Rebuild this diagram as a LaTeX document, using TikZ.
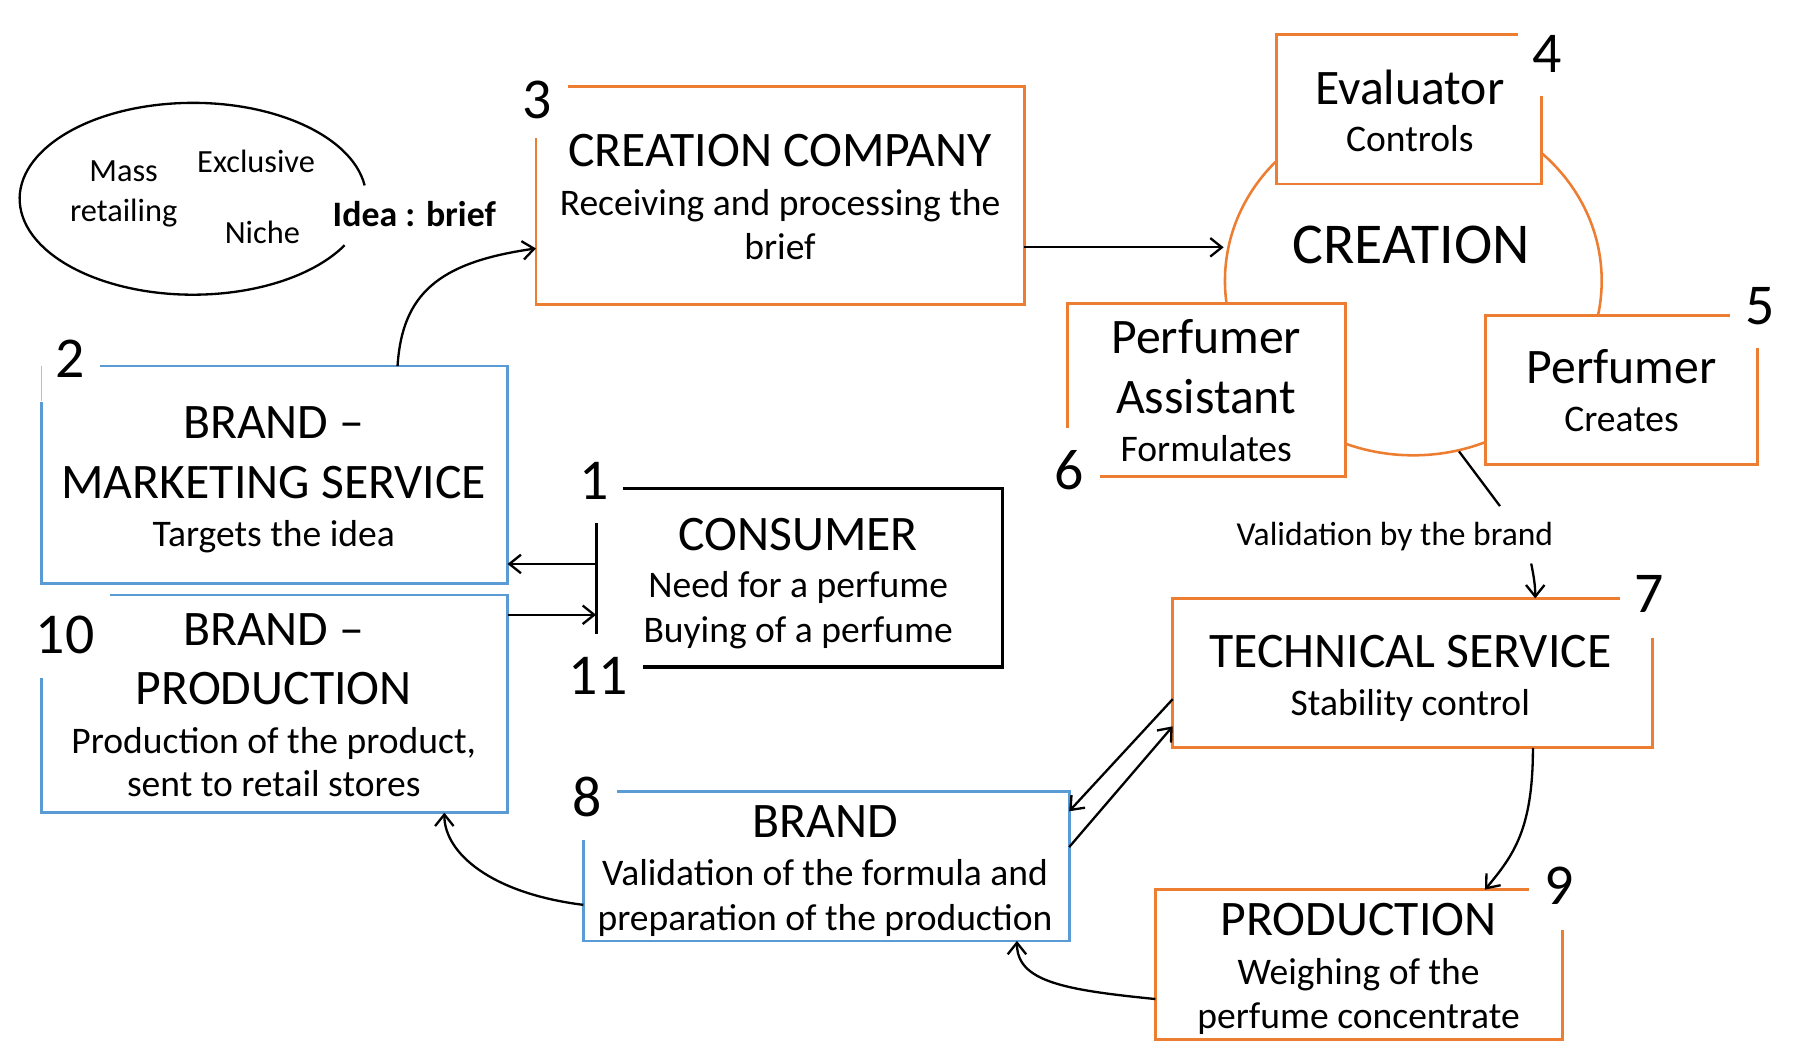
\documentclass[tikz,border=0pt]{standalone}
\usepackage{fontspec}
\setmainfont{Carlito}
\usetikzlibrary{calc,arrows.meta,shapes.geometric}
\definecolor{orng}{HTML}{ED7D31}
\definecolor{blu}{HTML}{5B9BD5}
\begin{document}
\begin{tikzpicture}[x=1pt,y=-1pt,
  boxnode/.style={rectangle, draw=none, inner sep=0pt, fill=white},
  oline/.style={draw=orng, line width=2.5pt},
  bline/.style={draw=blu, line width=2.4pt},
  kline/.style={draw=black, line width=2.7pt},
  arr/.style={draw=black, line width=2pt, -{Straight Barb[length=10pt,width=16pt]}},
  conn/.style={draw=black, line width=2pt},
  title/.style={font=\fontsize{43}{50}\selectfont, text height=27.2pt, text depth=0pt, inner sep=0pt},
  sub/.style={font=\fontsize{32.5}{38}\selectfont, text height=20.5pt, text depth=0pt, inner sep=0pt},
  num/.style={font=\fontsize{50}{60}\selectfont, text height=31.6pt, text depth=0pt, inner sep=0pt},
  elw/.style={font=\fontsize{28}{34}\selectfont, text height=17.7pt, text depth=0pt, inner sep=0pt},
  ideaw/.style={font=\fontsize{31}{37}\selectfont\bfseries, text height=19.6pt, text depth=0pt, inner sep=0pt},
  valw/.style={font=\fontsize{29}{35}\selectfont, text height=18.3pt, text depth=0pt, inner sep=0pt},
  bigw/.style={font=\fontsize{50}{60}\selectfont, text height=31.6pt, text depth=0pt, inner sep=0pt}]
\useasboundingbox[fill=white] (0,0) rectangle (1568,919);

% idea ellipse
\coordinate (idc) at (167,172);
\draw[line width=2pt] ($(idc)+(-8:150 and 83)$) arc[start angle=-8, end angle=-331, x radius=150, y radius=83];
\node[elw] (mass) at (107,148.5) {Mass};
\node[elw] (retail) at (107,183) {retailing};
\node[elw] (excl) at (221.6,140) {Exclusive};
\node[elw] (niche) at (227,201.7) {Niche};
\node[ideaw] (idea) at (358.5,185.8) {Idea : brief};

% creation ellipse
\node[ellipse, draw=orng, line width=2.2pt, minimum width=326pt, minimum height=302pt, inner sep=0pt] (cr) at (1223,243) {};
\node[bigw] (crt) at (1221.2,212.1) {CREATION};

% boxes
\node[boxnode, minimum width=422pt, minimum height=188pt] (b3) at (675,169) {};
\node[boxnode, minimum width=403pt, minimum height=188pt] (b2) at (237.5,411) {};
\node[boxnode, minimum width=403pt, minimum height=188pt] (b10) at (237.5,609) {};
\node[boxnode, minimum width=351pt, minimum height=154pt] (b1) at (691.5,500) {};
\node[boxnode, minimum width=229pt, minimum height=129pt] (b4) at (1219.5,94.5) {};
\node[boxnode, minimum width=240pt, minimum height=149pt] (b6) at (1044,337.5) {};
\node[boxnode, minimum width=235pt, minimum height=129pt] (b5) at (1403.5,337.5) {};
\node[boxnode, minimum width=415pt, minimum height=129pt] (b7) at (1222.5,582.5) {};
\node[boxnode, minimum width=352pt, minimum height=129pt] (b9) at (1176,834.5) {};
\node[boxnode, minimum width=420pt, minimum height=129pt] (b8) at (715,749.5) {};

% borders with gaps
\draw[oline] ($(b3.north west)+(28,0)$) -- (b3.north east) -- (b3.south east) -- (b3.south west) -- ($(b3.north west)+(0,45)$);
\draw[bline] ($(b2.north west)+(51,0)$) -- (b2.north east) -- (b2.south east) -- (b2.south west) -- ($(b2.north west)+(0,31)$);
\draw[draw=blu!60, line width=0.8pt] (b2.north west) -- ($(b2.north west)+(0,30)$);
\draw[bline] ($(b10.north west)+(59,0)$) -- (b10.north east) -- (b10.south east) -- (b10.south west) -- ($(b10.north west)+(0,72)$);
\draw[kline] ($(b1.north west)+(23,0)$) -- (b1.north east) -- (b1.south east) -- ($(b1.south west)+(41,0)$);
\draw[draw=black, line width=2.6pt] ($(b1.north west)+(0,30)$) -- ($(b1.south west)+(0,-29)$);
\draw[oline] ($(b4.north east)+(0,53)$) -- (b4.south east) -- (b4.south west) -- (b4.north west) -- ($(b4.north east)+(-21,0)$);
\draw[oline] ($(b6.south west)+(0,-42)$) -- (b6.north west) -- (b6.north east) -- (b6.south east) -- ($(b6.south west)+(28,0)$);
\draw[oline] ($(b5.north east)+(0,28)$) -- (b5.south east) -- (b5.south west) -- (b5.north west) -- ($(b5.north east)+(-24,0)$);
\draw[oline] ($(b7.north east)+(0,34)$) -- (b7.south east) -- (b7.south west) -- (b7.north west) -- ($(b7.north east)+(-28,0)$);
\draw[oline] ($(b9.north east)+(0,35)$) -- (b9.south east) -- (b9.south west) -- (b9.north west) -- ($(b9.north east)+(-29,0)$);
\draw[bline] ($(b8.north west)+(29,0)$) -- (b8.north east) -- (b8.south east) -- (b8.south west) -- ($(b8.north west)+(0,42)$);

% numbers
\node[num] (n1) at (513.7,416.8) {1};
\node[num] (n2) at (60.9,310.8) {2};
\node[num] (n3) at (464.4,86.5) {3};
\node[num] (n4) at (1338.8,46.9) {4};
\node[num] (n5) at (1522.9,264.7) {5};
\node[num] (n6) at (925.5,408.1) {6};
\node[num] (n7) at (1427,514.4) {7};
\node[num] (n8) at (507.8,690.4) {8};
\node[num] (n9) at (1349,767.2) {9};
\node[num] (n10) at (56.4,549.5) {10};
\node[num] (n11) at (517.7,585.5) {11};

% box texts
\node[title] (t3a) at (675,130.6) {CREATION COMPANY};
\node[sub] (t3b) at (675,176) {Receiving and processing the};
\node[sub] (t3c) at (675,214.4) {brief};

\node[title] (t2a) at (236.9,365.7) {BRAND –};
\node[title] (t2b) at (236.9,417.6) {MARKETING SERVICE};
\node[sub] (t2c) at (236.9,462.8) {Targets the idea};

\node[title] (t10a) at (236.9,544.6) {BRAND –};
\node[title] (t10b) at (236.9,596.4) {PRODUCTION};
\node[sub] (t10c) at (236.9,641.6) {Production of the product,};
\node[sub] (t10d) at (236.9,679.2) {sent to retail stores};

\node[title] (t1a) at (690.7,462.4) {CONSUMER};
\node[sub] (t1b) at (690.7,506.6) {Need for a perfume};
\node[sub] (t1c) at (690.7,545.6) {Buying of a perfume};

\node[title] (t4a) at (1220,76.4) {Evaluator};
\node[sub] (t4b) at (1220,121) {Controls};

\node[title] (t6a) at (1043.8,292.2) {Perfumer};
\node[title] (t6b) at (1043.8,344.1) {Assistant};
\node[sub] (t6c) at (1043.8,389.3) {Formulates};

\node[title] (t5a) at (1403.2,318.1) {Perfumer};
\node[sub] (t5b) at (1403.2,363.4) {Creates};

\node[title] (t7a) at (1220.4,564.4) {TECHNICAL SERVICE};
\node[sub] (t7b) at (1220.4,608.9) {Stability control};

\node[title] (t9a) at (1175.6,795.8) {PRODUCTION};
\node[sub] (t9b) at (1175.6,841.9) {Weighing of the};
\node[sub] (t9c) at (1175.6,879.4) {perfume concentrate};

\node[title] (t8a) at (713.9,711) {BRAND};
\node[sub] (t8b) at (713.9,755.6) {Validation of the formula and};
\node[sub] (t8c) at (713.9,794.6) {preparation of the production};

\node[valw] (val) at (1207,463.3) {Validation by the brand};

% connectors
\coordinate (a3) at ($(b3.east)+(0,45)$);
\draw[arr] ($(b2.north)+(106.5,0)$) .. controls +(4,-62) and +(-85,12) .. ($(b3.west)+(0,46)$);
\draw[arr] (a3) -- (a3 -| cr.west);
\draw[conn] (cr.-75) -- ($(val.north)+(91,-16)$);
\draw[arr] ($(val.south)+(118,15)$) .. controls +(2,10) and +(0,-12) .. ($(b7.north)+(106,0)$);
\draw[arr] ($(b7.west)+(0,22.5)$) -- ($(b8.east)+(0,-47.5)$);
\draw[arr] ($(b8.east)+(0,-16.5)$) -- ($(b7.west)+(0,46)$);
\draw[arr] ($(b7.south)+(104,0)$) .. controls +(0,70) and +(25,-30) .. ($(b9.north)+(109,0)$);
\draw[arr] ($(b9.west)+(0,30)$) .. controls +(-80,-8) and +(0,35) .. ($(b8.south)+(165,0)$);
\draw[arr] ($(b8.west)+(0,33.5)$) .. controls +(-80,-10) and +(0,35) .. ($(b10.south)+(147,0)$);
\draw[arr] ($(b1.west)+(0,-12)$) -- ($(b2.east)+(0,77)$);
\draw[arr] ($(b10.east)+(0,-77)$) -- ($(b1.west)+(0,32)$);
\end{tikzpicture}
\end{document}
